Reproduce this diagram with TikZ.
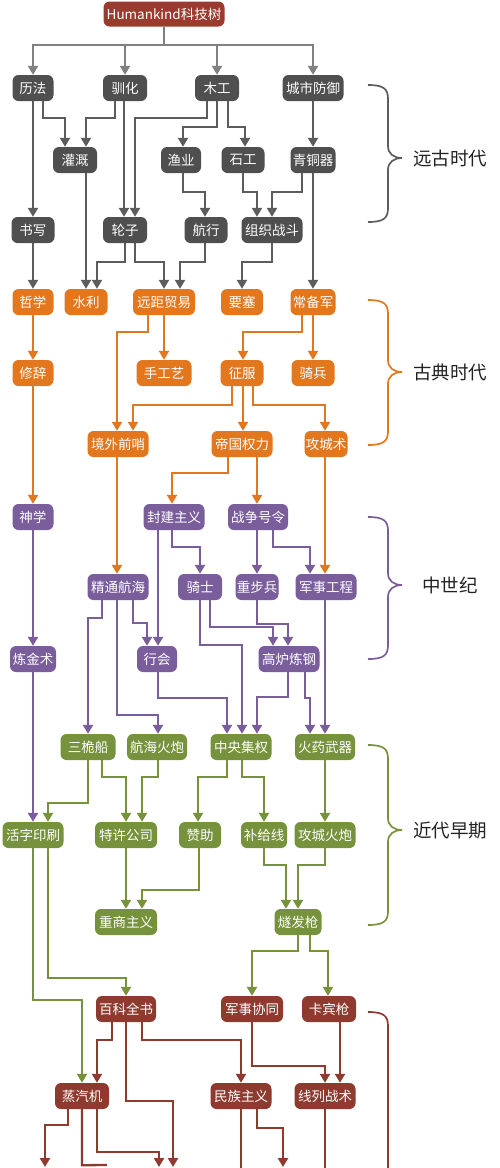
\documentclass[tikz,border=0pt]{standalone}
\usepackage{fontspec}
\newfontfamily\cjk{Noto Sans CJK SC}
\usetikzlibrary{arrows.meta}
\definecolor{cgray}{HTML}{4F4F4F}
\definecolor{lgray}{HTML}{5C5C5C}
\definecolor{rgray}{HTML}{808080}
\definecolor{croot}{HTML}{9B3B30}
\definecolor{corange}{HTML}{E2771E}
\definecolor{cpurple}{HTML}{7A5E9C}
\definecolor{cgreen}{HTML}{76923C}
\definecolor{cdred}{HTML}{8E3A2F}
\definecolor{ctext}{HTML}{222222}
\tikzset{
  nd/.style={rounded corners=6pt, minimum height=26pt, inner sep=0pt, text=white,
    font=\cjk\fontsize{13.5}{14}\selectfont},
  gn/.style={nd, fill=cgray},
  on/.style={nd, fill=corange},
  pn/.style={nd, fill=cpurple},
  grn/.style={nd, fill=cgreen},
  rn/.style={nd, fill=cdred},
  ar/.style={line width=2.3pt, -{Triangle[width=10pt,length=9pt]}},
  ga/.style={ar, draw=lgray},
  ra0/.style={ar, draw=rgray},
  oa/.style={ar, draw=corange},
  pa/.style={ar, draw=cpurple},
  gra/.style={ar, draw=cgreen},
  ra/.style={ar, draw=cdred},
  rline/.style={line width=2.3pt, draw=cdred},
  era/.style={text=ctext, font=\cjk\fontsize{18.5}{20}\selectfont},
}
\newcommand\st[5]{\draw[#1] ([xshift=#3pt]#2.south) -- ([xshift=#5pt]#4.north);}
\newcommand\rt[6]{\draw[#1] ([xshift=#3pt]#2.south) -- ++(0,#4) -| ([xshift=#6pt]#5.north);}
\newcommand\erabr[4]{\draw[#1, line width=1.7pt] (368,#2) .. controls (384,#2) and (388,#2+4) .. (388,#2+14) -- (388,#4-12) .. controls (388,#4-4) and (394,#4) .. (402,#4) .. controls (394,#4) and (388,#4+4) .. (388,#4+12) -- (388,#3-14) .. controls (388,#3-4) and (384,#3) .. (368,#3);}
\begin{document}
\begin{tikzpicture}[x=1pt,y=-1pt]
\useasboundingbox (0,0) rectangle (500,1168);
% ---- nodes: ancient ----
\node[nd, fill=croot, minimum width=121pt, minimum height=25pt] (root) at (164,14) {Humankind科技树};
\node[gn, minimum width=41pt] (lifa) at (33,88) {历法};
\node[gn, minimum width=44pt] (xunhua) at (125,88) {驯化};
\node[gn, minimum width=44pt] (mugong) at (217,88) {木工};
\node[gn, minimum width=61pt] (chengshi) at (313,88) {城市防御};
\node[gn, minimum width=44pt] (guangai) at (75,160) {灌溉};
\node[gn, minimum width=40pt] (yuye) at (181,160) {渔业};
\node[gn, minimum width=43pt] (shigong) at (243,160) {石工};
\node[gn, minimum width=45pt] (qingtong) at (313,160) {青铜器};
\node[gn, minimum width=43pt] (shuxie) at (33,230) {书写};
\node[gn, minimum width=44pt] (lunzi) at (125,230) {轮子};
\node[gn, minimum width=43pt] (hangxing) at (206,230) {航行};
\node[gn, minimum width=61pt] (zuzhi) at (272,230) {组织战斗};
% ---- classical ----
\node[on, minimum width=41pt] (zhexue) at (33,302) {哲学};
\node[on, minimum width=43pt] (shuili) at (86,302) {水利};
\node[on, minimum width=62pt] (yuanju) at (164,302) {远距贸易};
\node[on, minimum width=42pt] (yaosai) at (242,302) {要塞};
\node[on, minimum width=45pt] (changbei) at (313,302) {常备军};
\node[on, minimum width=41pt] (xiuci) at (33,373) {修辞};
\node[on, minimum width=55pt] (shougong) at (164,373) {手工艺};
\node[on, minimum width=43pt] (zhengfu) at (242,373) {征服};
\node[on, minimum width=43pt] (qibing) at (313,373) {骑兵};
\node[on, minimum width=61pt] (jingwai) at (118,444) {境外前哨};
\node[on, minimum width=61pt] (diguo) at (242,444) {帝国权力};
\node[on, minimum width=43pt] (gongcheng) at (326,444) {攻城术};
% ---- medieval ----
\node[pn, minimum width=41pt] (shenxue) at (33,517) {神学};
\node[pn, minimum width=61pt] (fengjian) at (174,517) {封建主义};
\node[pn, minimum width=60pt] (zhanzheng) at (258,517) {战争号令};
\node[pn, minimum width=61pt] (jingtong) at (118,587) {精通航海};
\node[pn, minimum width=44pt] (qishi) at (200,587) {骑士};
\node[pn, minimum width=43pt] (zhongbu) at (257,587) {重步兵};
\node[pn, minimum width=61pt] (junshi) at (326,587) {军事工程};
\node[pn, minimum width=46pt] (lianjin) at (33,659) {炼金术};
\node[pn, minimum width=40pt] (hanghui) at (157,659) {行会};
\node[pn, minimum width=61pt] (gaolu) at (289,659) {高炉炼钢};
% ---- early modern ----
\node[grn, minimum width=55pt] (sanwei) at (88,747) {三桅船};
\node[grn, minimum width=60pt] (hanghai) at (157,747) {航海火炮};
\node[grn, minimum width=61pt] (zhongyang) at (241,747) {中央集权};
\node[grn, minimum width=60pt] (huoyao) at (325,747) {火药武器};
\node[grn, minimum width=61pt] (huozi) at (33,835) {活字印刷};
\node[grn, minimum width=62pt] (texu) at (126,835) {特许公司};
\node[grn, minimum width=42pt] (zanzhu) at (200,835) {赞助};
\node[grn, minimum width=46pt] (buji) at (264,835) {补给线};
\node[grn, minimum width=61pt] (gongchenghp) at (325,835) {攻城火炮};
\node[grn, minimum width=62pt] (zhongshang) at (126,922) {重商主义};
\node[grn, minimum width=47pt] (suifa) at (298,922) {燧发枪};
% ---- industrial ----
\node[rn, minimum width=60pt] (baike) at (126,1009) {百科全书};
\node[rn, minimum width=62pt] (junshixt) at (252,1009) {军事协同};
\node[rn, minimum width=54pt] (kabin) at (329,1009) {卡宾枪};
\node[rn, minimum width=54pt] (zhengqi) at (82,1096) {蒸汽机};
\node[rn, minimum width=61pt] (minzu) at (241,1096) {民族主义};
\node[rn, minimum width=61pt] (xianlie) at (325,1096) {线列战术};
% free ends at the bottom
\coordinate (o1) at (173,1167);
\coordinate (o2) at (45,1167);
\coordinate (o3) at (107,1165);
\coordinate (o4) at (159,1167);
\coordinate (o5) at (241,1168);
\coordinate (o6) at (283,1167);
\coordinate (o7) at (325,1168);
% ---- root connectors ----
\draw[line width=2.3pt, draw=rgray] (root.south) -- ++(0,18.5) coordinate (rj);
\draw[ra0] (rj) -| (lifa.north);
\draw[ra0] (rj) -| (xunhua.north);
\draw[ra0] (rj) -| (mugong.north);
\draw[ra0] (rj) -| (chengshi.north);
% ---- gray edges ----
\st{ga}{lifa}{0}{shuxie}{0}
\rt{ga}{lifa}{10}{17}{guangai}{-10}
\rt{ga}{xunhua}{-10}{17}{guangai}{11}
\st{ga}{xunhua}{-1}{lunzi}{-1}
\rt{ga}{mugong}{-10}{17}{lunzi}{10}
\rt{ga}{mugong}{0}{26}{yuye}{2}
\rt{ga}{mugong}{11}{26}{shigong}{2}
\st{ga}{chengshi}{0}{qingtong}{0}
\rt{ga}{yuye}{2}{19}{hangxing}{-1}
\rt{ga}{shigong}{0}{19}{zuzhi}{-15}
\rt{ga}{qingtong}{-11}{19}{zuzhi}{0}
\st{ga}{qingtong}{0}{changbei}{0}
\st{ga}{shuxie}{0}{zhexue}{0}
\st{ga}{guangai}{11}{shuili}{0}
\rt{ga}{lunzi}{0}{19}{shuili}{11}
\rt{ga}{lunzi}{10}{19}{yuanju}{0}
\rt{ga}{hangxing}{-1}{19}{yuanju}{16}
\rt{ga}{zuzhi}{0}{19}{yaosai}{0}
% ---- orange edges ----
\st{oa}{zhexue}{0}{xiuci}{0}
\st{oa}{yuanju}{0}{shougong}{0}
\rt{oa}{yuanju}{-16}{17}{jingwai}{-1}
\rt{oa}{changbei}{-11}{17}{zhengfu}{1}
\st{oa}{changbei}{0}{qibing}{0}
\rt{oa}{zhengfu}{-10}{19}{jingwai}{15}
\st{oa}{zhengfu}{1}{diguo}{1}
\rt{oa}{zhengfu}{11}{19}{gongcheng}{-1}
\st{oa}{xiuci}{0}{shenxue}{0}
\st{oa}{jingwai}{-1}{jingtong}{-1}
\rt{oa}{diguo}{-14}{16}{fengjian}{-2}
\st{oa}{diguo}{15}{zhanzheng}{-1}
\st{oa}{gongcheng}{-1}{junshi}{-1}
% ---- purple edges ----
\st{pa}{shenxue}{0}{lianjin}{0}
\st{pa}{fengjian}{-16}{hanghui}{1}
\rt{pa}{fengjian}{-2}{17}{qishi}{0}
\st{pa}{zhanzheng}{-1}{zhongbu}{0}
\rt{pa}{zhanzheng}{15}{17}{junshi}{-16}
\rt{pa}{jingtong}{15}{23}{hanghui}{-10}
\rt{pa}{qishi}{10}{27}{gaolu}{-16}
\rt{pa}{zhongbu}{0}{24}{gaolu}{-1}
\rt{pa}{jingtong}{-16}{18}{sanwei}{0}
\rt{pa}{jingtong}{-1}{115}{hanghai}{1}
\rt{pa}{qishi}{0}{45}{zhongyang}{1}
\rt{pa}{hanghui}{1}{26}{zhongyang}{-14}
\rt{pa}{gaolu}{-1}{25}{zhongyang}{16}
\rt{pa}{gaolu}{16}{26}{huoyao}{-15}
\st{pa}{junshi}{-1}{huoyao}{0}
\st{pa}{lianjin}{0}{huozi}{0}
% ---- green edges ----
\rt{gra}{sanwei}{0}{43}{huozi}{15}
\rt{gra}{sanwei}{14}{17}{texu}{0}
\rt{gra}{hanghai}{1}{17}{texu}{16}
\rt{gra}{zhongyang}{-14}{17}{zanzhu}{-2}
\rt{gra}{zhongyang}{1}{17}{buji}{0}
\st{gra}{huoyao}{0}{gongchenghp}{0}
\st{gra}{texu}{0}{zhongshang}{0}
\rt{gra}{zanzhu}{-1}{42}{zhongshang}{16}
\rt{gra}{buji}{0}{17}{suifa}{-12}
\rt{gra}{gongchenghp}{0}{17}{suifa}{0}
\rt{gra}{huozi}{0}{152}{zhengqi}{0}
\rt{gra}{huozi}{15}{130}{baike}{0}
\rt{gra}{suifa}{0}{16}{junshixt}{0}
\rt{gra}{suifa}{12}{16}{kabin}{-1}
% ---- dark red edges ----
\rt{ra}{baike}{-14}{18}{zhengqi}{15}
\rt{ra}{baike}{16}{18}{minzu}{0}
\rt{ra}{junshixt}{0}{44}{xianlie}{0}
\st{ra}{kabin}{11}{xianlie}{15}
\draw[ra] (baike.south) -- ++(0,79) -| (o1);
\draw[ra] ([xshift=-14pt]zhengqi.south) -- ++(0,16) -| (o2);
\draw[rline] (zhengqi.south) -- ++(0,56) -- (o3);
\draw[ra] ([xshift=15pt]zhengqi.south) -- ++(0,43) -| (o4);
\draw[rline] (minzu.south) -- (o5);
\draw[ra] ([xshift=16pt]minzu.south) -- ++(0,19) -| (o6);
\draw[rline] (xianlie.south) -- (o7);
% ---- era braces and labels ----
\erabr{lgray}{85}{222}{158}
\erabr{corange}{300}{445}{372}
\erabr{cpurple}{517}{659}{585}
\erabr{cgreen}{745}{925}{830}
\draw[cdred, line width=1.7pt] (368,1012) .. controls (384,1012) and (388,1016) .. (388,1026) -- (388,1168);
\node[era] (e1) at (450,158) {远古时代};
\node[era] (e2) at (450,372) {古典时代};
\node[era] (e3) at (450,585) {中世纪};
\node[era] (e4) at (450,830) {近代早期};
\end{tikzpicture}
\end{document}
